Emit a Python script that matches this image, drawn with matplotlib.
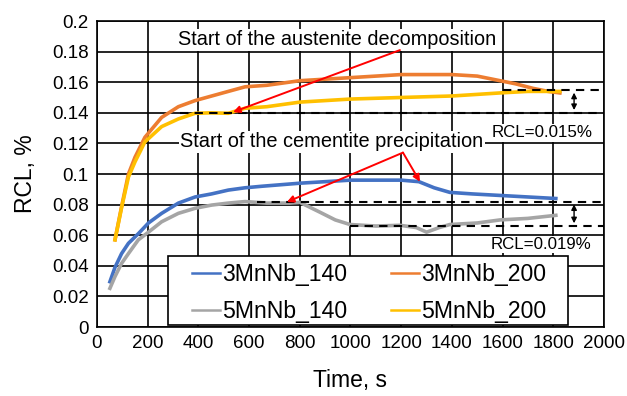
import matplotlib
matplotlib.use('Agg')
import matplotlib.pyplot as plt
from matplotlib.patches import Rectangle
import numpy as np

plt.rcParams['font.family'] = ['Liberation Sans', 'DejaVu Sans']

# values
t_3mn140 = [51, 71, 97, 124, 163, 203, 255, 321, 387, 452, 518, 584, 650, 800, 900, 1000, 1100, 1200, 1270, 1330, 1392, 1480, 1590, 1700, 1810]
v_3mn140 = [0.0296, 0.039, 0.048, 0.0547, 0.061, 0.068, 0.0743, 0.081, 0.085, 0.087, 0.0895, 0.091, 0.092, 0.094, 0.095, 0.096, 0.096, 0.096, 0.095, 0.091, 0.088, 0.087, 0.086, 0.085, 0.084]

t_5mn140 = [51, 71, 97, 124, 163, 203, 255, 321, 387, 452, 518, 584, 670, 760, 800, 880, 940, 998, 1100, 1195, 1260, 1300, 1350, 1392, 1500, 1590, 1700, 1810]
v_5mn140 = [0.0253, 0.033, 0.0416, 0.048, 0.057, 0.062, 0.0688, 0.0743, 0.0776, 0.0797, 0.081, 0.082, 0.081, 0.081, 0.0815, 0.075, 0.070, 0.067, 0.066, 0.0665, 0.065, 0.062, 0.065, 0.067, 0.068, 0.070, 0.071, 0.073]

t_3mn200 = [71, 97, 124, 150, 189, 255, 321, 387, 518, 584, 670, 800, 1000, 1200, 1400, 1500, 1590, 1650, 1720, 1780, 1826]
v_3mn200 = [0.057, 0.0787, 0.100, 0.111, 0.124, 0.137, 0.144, 0.148, 0.154, 0.157, 0.158, 0.161, 0.163, 0.165, 0.165, 0.164, 0.161, 0.159, 0.156, 0.154, 0.153]

t_5mn200 = [71, 97, 124, 150, 189, 255, 321, 387, 450, 518, 584, 670, 800, 1000, 1195, 1400, 1590, 1700, 1826]
v_5mn200 = [0.057, 0.078, 0.098, 0.108, 0.121, 0.131, 0.136, 0.1397, 0.140, 0.1397, 0.143, 0.144, 0.147, 0.149, 0.150, 0.151, 0.153, 0.154, 0.154]

labels = ['3MnNb_140', '5MnNb_140', '3MnNb_200', '5MnNb_200']
colors = ['#4472C4', '#A5A5A5', '#ED7D31', '#FFC000']

fig = plt.figure(figsize=(6.27, 3.96), dpi=100)
ax = fig.add_axes([0.1547, 0.1742, 0.8086, 0.7727])

h1, = ax.plot(t_3mn140, v_3mn140, color=colors[0], lw=2.6)
h2, = ax.plot(t_5mn140, v_5mn140, color=colors[1], lw=2.6)
h3, = ax.plot(t_3mn200, v_3mn200, color=colors[2], lw=2.6)
h4, = ax.plot(t_5mn200, v_5mn200, color=colors[3], lw=2.6)

# dashed reference levels
ax.plot([1600, 2000], [0.155, 0.155], 'k--', lw=1.5, dashes=(4, 3), zorder=3)
ax.plot([327, 2000], [0.140, 0.140], 'k--', lw=1.5, dashes=(4, 3), zorder=3)
ax.plot([630, 2000], [0.082, 0.082], 'k--', lw=1.5, dashes=(4, 3), zorder=3)
ax.plot([998, 2000], [0.066, 0.066], 'k--', lw=1.5, dashes=(4, 3), zorder=3)

for lo, hi in [(0.140, 0.155), (0.066, 0.082)]:
    ax.annotate('', xy=(1882, hi), xytext=(1882, lo),
                arrowprops=dict(arrowstyle='<|-|>', color='k', lw=1, mutation_scale=8))

box = dict(facecolor='white', edgecolor='none', pad=1)
ax.text(320, 0.1876, 'Start of the austenite decomposition', fontsize=14.3,
        va='center', ha='left', bbox=box, zorder=4)
ax.text(328, 0.121, 'Start of the cementite precipitation', fontsize=14.4,
        va='center', ha='left', bbox=box, zorder=4)
ax.text(1755, 0.127, 'RCL=0.015%', fontsize=12.2, va='center', ha='center', bbox=box, zorder=4)
ax.text(1750, 0.054, 'RCL=0.019%', fontsize=12.2, va='center', ha='center', bbox=box, zorder=4)

red = dict(arrowstyle='-|>', color='#FF0000', lw=1.4, mutation_scale=10, shrinkA=0, shrinkB=0)
ax.annotate('', xy=(537, 0.1405), xytext=(1195, 0.181), arrowprops=red, zorder=5)
ax.annotate('', xy=(749, 0.0817), xytext=(1207, 0.114), arrowprops=red, zorder=5)
ax.annotate('', xy=(1274, 0.095), xytext=(1207, 0.114), arrowprops=red, zorder=5)

ax.set_xlim(0, 2000)
ax.set_ylim(0, 0.2)
ax.set_xticks(np.arange(0, 2001, 200))
ax.set_yticks(np.arange(0, 0.201, 0.02))
ax.set_yticklabels(['0', '0.02', '0.04', '0.06', '0.08', '0.1', '0.12', '0.14', '0.16', '0.18', '0.2'])
ax.tick_params(length=0, labelsize=13.5, pad=6)
ax.grid(True, color='black', lw=1.2)
ax.set_axisbelow(True)
for s in ax.spines.values():
    s.set_color('black')
    s.set_linewidth(1.2)

ax.set_xlabel('Time, s', fontsize=16.5, labelpad=12)
ax.set_ylabel('RCL, %', fontsize=16.5, labelpad=11)

# legend frame drawn separately (wider side padding than matplotlib allows)
ax.add_patch(Rectangle((280, 0.0013), 1578, 0.0451, facecolor='white',
                       edgecolor='black', lw=1.2, zorder=4))
leg = ax.legend([h1, h2, h3, h4], labels, ncol=2, loc='upper left',
                bbox_to_anchor=(0.1874, 0.210), borderaxespad=0, borderpad=0,
                fontsize=16.6, handlelength=1.2, handletextpad=0.1,
                columnspacing=1.9, labelspacing=0.62, frameon=False)
leg.set_zorder(5)
for l in leg.get_lines():
    l.set_linewidth(1.8)

fig.savefig('out.png', dpi=100)
